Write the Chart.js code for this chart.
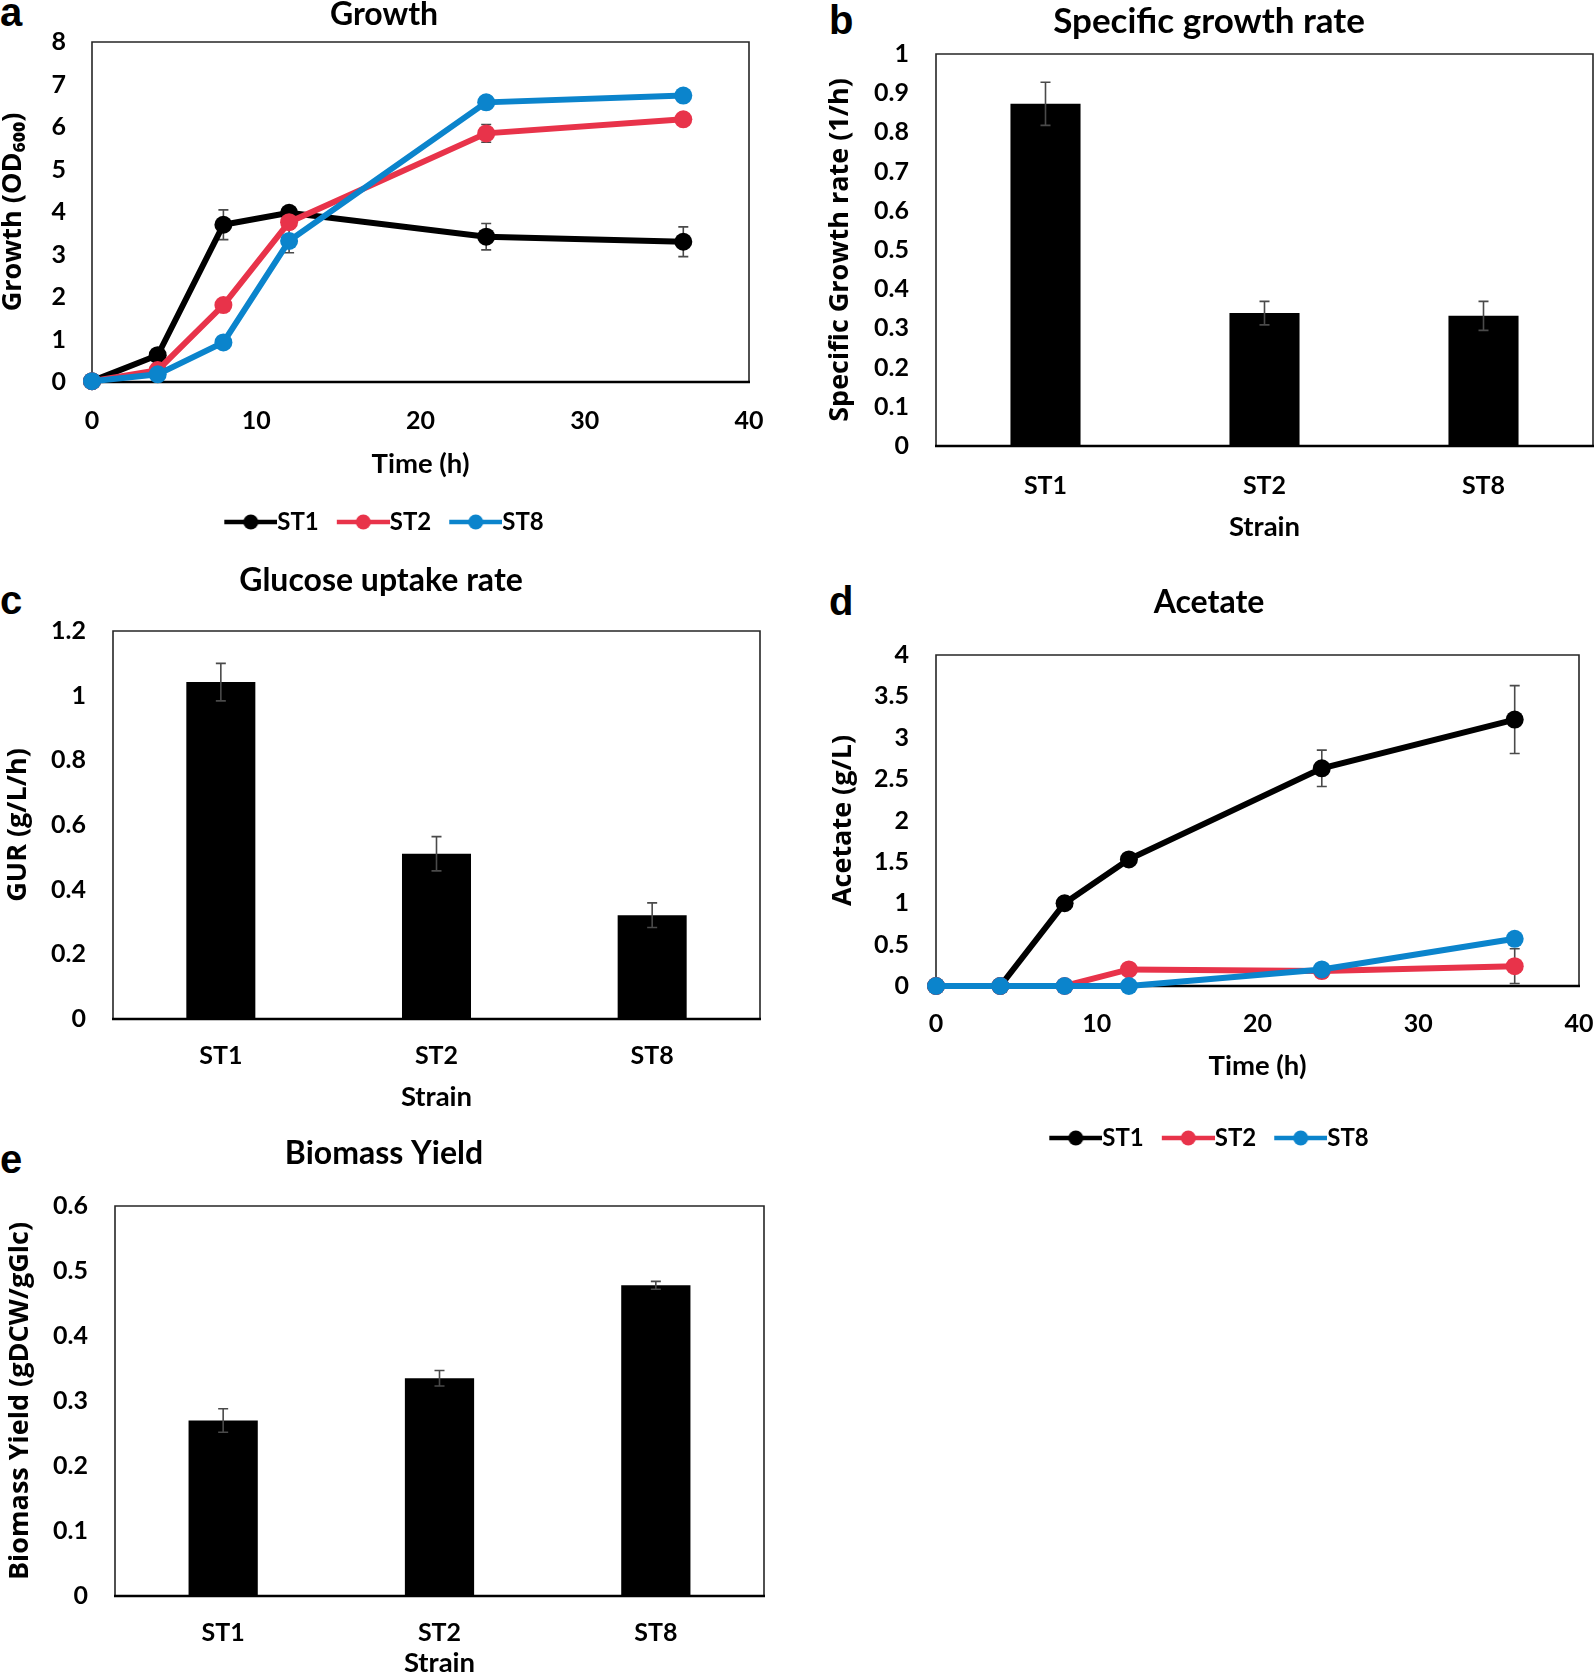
<!DOCTYPE html>
<html><head><meta charset="utf-8">
<script src="https://cdn.jsdelivr.net/npm/chart.js@4.4.1/dist/chart.umd.min.js"></script>
<style>
html,body{margin:0;padding:0;background:#fff;overflow:hidden;width:1595px;height:1675px;position:relative;}
.panel{position:absolute;}
.letter{position:absolute;font-family:'Liberation Sans',Arial,sans-serif;font-weight:bold;font-size:40px;line-height:40px;color:#000;}
canvas{display:block;}
</style></head><body>
<div class="letter" style="left:0px;top:-8px">a</div>
<div class="letter" style="left:829px;top:0px">b</div>
<div class="letter" style="left:0px;top:580px">c</div>
<div class="letter" style="left:829px;top:581px">d</div>
<div class="letter" style="left:0px;top:1139px">e</div>

<div class="panel" style="left:0px;top:0px"><canvas id="ca" width="768" height="544"></canvas></div>
<div class="panel" style="left:823px;top:0px"><canvas id="cb" width="772" height="552"></canvas></div>
<div class="panel" style="left:0px;top:565px"><canvas id="cc" width="762" height="555"></canvas></div>
<div class="panel" style="left:823px;top:585px"><canvas id="cd" width="772" height="575"></canvas></div>
<div class="panel" style="left:0px;top:1136px"><canvas id="ce" width="768" height="544"></canvas></div>

<script>
// ---------- DATA ----------
const strains = ['ST1', 'ST2', 'ST8'];
const timeH = [0, 4, 8, 12, 24, 36];

const growthST1 = [0.02, 0.63, 3.70, 3.98, 3.42, 3.30];
const growthST2 = [0.02, 0.28, 1.81, 3.76, 5.85, 6.18];
const growthST8 = [0.02, 0.18, 0.93, 3.32, 6.58, 6.74];
const growthErrST1 = [0, 0.05, 0.35, 0.10, 0.31, 0.35];
const growthErrST2 = [0, 0.05, 0.10, 0.10, 0.21, 0.05];
const growthErrST8 = [0, 0.03, 0.05, 0.28, 0.15, 0.05];

const sgrValues = [0.873, 0.339, 0.332];
const sgrErrors = [0.055, 0.030, 0.037];

const gurValues = [1.042, 0.511, 0.321];
const gurErrors = [0.058, 0.053, 0.038];

const acetateST1 = [0, 0, 1.00, 1.53, 2.63, 3.22];
const acetateST2 = [0, 0, 0, 0.20, 0.18, 0.24];
const acetateST8 = [0, 0, 0, 0, 0.20, 0.57];
const acetateErrST1 = [0, 0, 0, 0, 0.22, 0.41];
const acetateErrST2 = [0, 0, 0, 0, 0.08, 0.21];
const acetateErrST8 = [0, 0, 0, 0, 0.06, 0];

const biomassValues = [0.270, 0.335, 0.478];
const biomassErrors = [0.018, 0.012, 0.006];

// ---------- STYLE ----------
const COLORS = {ST1: '#000000', ST2: '#E8334A', ST8: '#0B84CC'};
const TICK_FONT = {family: 'Lato', size: 25, weight: 'bold'};
const XTITLE_FONT = {family: 'Lato', size: 27.5, weight: 'bold'};
const YTITLE_FONT = {family: "'Open Sans'", size: 27, weight: 'bold'};
Chart.defaults.color = '#000';
Chart.defaults.font.family = 'Lato';

function legendIcon(color) {
  const c = document.createElement('canvas');
  c.width = 65; c.height = 20;
  const g = c.getContext('2d');
  g.strokeStyle = color; g.lineWidth = 4.5;
  g.beginPath(); g.moveTo(12, 10); g.lineTo(65, 10); g.stroke();
  g.fillStyle = color;
  g.beginPath(); g.arc(38.5, 10, 7.5, 0, Math.PI * 2); g.fill();
  return c;
}

function drawErrors(chart) {
  const ctx = chart.ctx;
  chart.data.datasets.forEach((ds, di) => {
    if (!ds.errors) return;
    const meta = chart.getDatasetMeta(di);
    const ys = chart.scales[meta.yAxisID];
    ctx.save();
    ctx.strokeStyle = '#4a4a4a';
    ctx.lineWidth = 1.6;
    meta.data.forEach((el, i) => {
      const e = ds.errors[i];
      if (!e) return;
      const raw = ds.data[i];
      const v = (typeof raw === 'object') ? raw.y : raw;
      const top = ys.getPixelForValue(v + e);
      const bot = ys.getPixelForValue(v - e);
      ctx.beginPath();
      ctx.moveTo(el.x, top); ctx.lineTo(el.x, bot);
      ctx.moveTo(el.x - 5, top); ctx.lineTo(el.x + 5, top);
      ctx.moveTo(el.x - 5, bot); ctx.lineTo(el.x + 5, bot);
      ctx.stroke();
    });
    ctx.restore();
  });
}
const errorBarPlugin = {
  id: 'errorBars',
  beforeDatasetsDraw(chart) { if (chart.config.type === 'line') drawErrors(chart); },
  afterDatasetsDraw(chart) { if (chart.config.type === 'bar') drawErrors(chart); }
};
const framePlugin = {
  id: 'frame',
  beforeDatasetsDraw(chart) {
    const {left, top, right, bottom} = chart.chartArea;
    const ctx = chart.ctx;
    ctx.save();
    ctx.strokeStyle = '#262626';
    ctx.lineWidth = 1.6;
    ctx.beginPath();
    ctx.moveTo(left, bottom); ctx.lineTo(left, top); ctx.lineTo(right, top); ctx.lineTo(right, bottom);
    ctx.stroke();
    ctx.strokeStyle = '#000';
    ctx.lineWidth = 2.6;
    ctx.beginPath(); ctx.moveTo(left - 1, bottom); ctx.lineTo(right + 1, bottom); ctx.stroke();
    ctx.restore();
  }
};

const fmt = (v) => String(Math.round(v * 100) / 100);
const hiddenGrid = (len) => ({display: true, color: 'rgba(0,0,0,0)', drawOnChartArea: false, drawTicks: true, tickLength: len});

function titleOpt(text, size, pt, pb) {
  return {display: true, text, color: '#000', font: {family: 'Lato', size, weight: 'bold'},
          padding: {top: pt, bottom: pb}};
}
function yAxis(o) {
  return {
    position: 'left', min: o.min, max: o.max,
    ticks: {stepSize: o.step, padding: 0, font: TICK_FONT, color: '#000', callback: fmt},
    grid: hiddenGrid(o.tickPad), border: {display: false},
    title: {display: true, text: o.title, font: YTITLE_FONT, color: '#000', padding: {top: o.titlePad, bottom: 0}},
    afterFit(s) { s.width = o.width; }
  };
}
function xAxisLinear(o) {
  return {type: 'linear', min: 0, max: 40,
    ticks: {stepSize: 10, padding: 0, font: TICK_FONT, color: '#000', callback: fmt},
    grid: hiddenGrid(o.tickPad), border: {display: false},
    title: xTitle(o.title, o.titlePad), afterFit(s) { s.height = o.height; }};
}
function xAxisCat(o) {
  return {ticks: {padding: 0, font: TICK_FONT, color: '#000'},
    grid: hiddenGrid(o.tickPad), border: {display: false},
    title: xTitle(o.title, o.titlePad), afterFit(s) { s.height = o.height; }};
}
function rightDummy(w) {
  return {position: 'right', display: true, grid: {display: false, drawTicks: false}, border: {display: false},
          ticks: {display: false}, afterFit(s) { s.width = w; }};
}
function xTitle(text, pb) {
  return {display: true, text, font: XTITLE_FONT, color: '#000', padding: {top: 0, bottom: pb}};
}
function legendOpt() {
  const icons = [legendIcon(COLORS.ST1), legendIcon(COLORS.ST2), legendIcon(COLORS.ST8)];
  return {
    display: true, position: 'bottom',
    labels: {
      usePointStyle: true, pointStyleWidth: 41, padding: 18, color: '#000',
      font: {family: 'Lato', size: 24, weight: 'bold'},
      sort: (a, b) => a.datasetIndex - b.datasetIndex,
      generateLabels(chart) {
        const items = Chart.defaults.plugins.legend.labels.generateLabels(chart);
        items.forEach((it) => { it.pointStyle = icons[it.datasetIndex]; it.lineWidth = 0; });
        return items;
      }
    }
  };
}
function lineDs(label, values, errors, order) {
  return {
    label, data: timeH.map((t, i) => ({x: t, y: values[i]})), errors,
    borderColor: COLORS[label], backgroundColor: COLORS[label],
    pointBackgroundColor: COLORS[label], pointBorderWidth: 0, pointRadius: 9,
    borderWidth: 6, tension: 0, clip: false, order
  };
}
function barDs(values, errors) {
  return {label: 'value', data: values, errors, backgroundColor: '#000', borderWidth: 0,
          barPercentage: 0.32, categoryPercentage: 1};
}
const base = {responsive: false, animation: false, events: []};

function build() {
  // a: Growth
  new Chart(document.getElementById('ca'), {
    type: 'line',
    data: {datasets: [
      lineDs('ST1', growthST1, growthErrST1, 3),
      lineDs('ST2', growthST2, growthErrST2, 2),
      lineDs('ST8', growthST8, growthErrST8, 1)
    ]},
    options: Object.assign({}, base, {
      plugins: {title: titleOpt('Growth', 32, -4.2, 7.8), legend: legendOpt(), tooltip: {enabled: false}},
      scales: {
        x: xAxisLinear({tickPad: 24, title: 'Time (h)', titlePad: 11.5, height: 110}),
        y: yAxis({min: 0, max: 8, step: 1, tickPad: 26, title: 'Growth (OD\u2086\u2080\u2080)', titlePad: -3.2, width: 92}),
        yR: rightDummy(19)
      }
    }),
    plugins: [errorBarPlugin, framePlugin]
  });

  // b: Specific growth rate
  new Chart(document.getElementById('cb'), {
    type: 'bar',
    data: {labels: strains, datasets: [barDs(sgrValues, sgrErrors)]},
    options: Object.assign({}, base, {
      plugins: {title: titleOpt('Specific growth rate', 35, 1, 11), legend: {display: false}, tooltip: {enabled: false}},
      scales: {
        x: xAxisCat({tickPad: 25, title: 'Strain', titlePad: 8.5, height: 106}),
        y: yAxis({min: 0, max: 1, step: 0.1, tickPad: 27, title: 'Specific Growth rate (1/h)', titlePad: 0.8, width: 113}),
        yR: rightDummy(2)
      }
    }),
    plugins: [errorBarPlugin, framePlugin]
  });

  // c: Glucose uptake rate
  new Chart(document.getElementById('cc'), {
    type: 'bar',
    data: {labels: strains, datasets: [barDs(gurValues, gurErrors)]},
    options: Object.assign({}, base, {
      plugins: {title: titleOpt('Glucose uptake rate', 32, -3.2, 30.8), legend: {display: false}, tooltip: {enabled: false}},
      scales: {
        x: xAxisCat({tickPad: 22, title: 'Strain', titlePad: 6.5, height: 101}),
        y: yAxis({min: 0, max: 1.2, step: 0.2, tickPad: 27, title: 'GUR (g/L/h)', titlePad: 1.8, width: 113}),
        yR: rightDummy(2)
      }
    }),
    plugins: [errorBarPlugin, framePlugin]
  });

  // d: Acetate
  new Chart(document.getElementById('cd'), {
    type: 'line',
    data: {datasets: [
      lineDs('ST1', acetateST1, acetateErrST1, 3),
      lineDs('ST2', acetateST2, acetateErrST2, 2),
      lineDs('ST8', acetateST8, acetateErrST8, 1)
    ]},
    options: Object.assign({}, base, {
      plugins: {title: titleOpt('Acetate', 32, -1.2, 32.8), legend: legendOpt(), tooltip: {enabled: false}},
      scales: {
        x: xAxisLinear({tickPad: 23, title: 'Time (h)', titlePad: 25.5, height: 122}),
        y: yAxis({min: 0, max: 4, step: 0.5, tickPad: 27, title: 'Acetate (g/L)', titlePad: 3.8, width: 113}),
        yR: rightDummy(16)
      }
    }),
    plugins: [errorBarPlugin, framePlugin]
  });

  // e: Biomass Yield
  new Chart(document.getElementById('ce'), {
    type: 'bar',
    data: {labels: strains, datasets: [barDs(biomassValues, biomassErrors)]},
    options: Object.assign({}, base, {
      plugins: {title: titleOpt('Biomass Yield', 32, -1.2, 32.8), legend: {display: false}, tooltip: {enabled: false}},
      scales: {
        x: xAxisCat({tickPad: 22, title: 'Strain', titlePad: 0.5, height: 84}),
        y: yAxis({min: 0, max: 0.6, step: 0.1, tickPad: 27, title: 'Biomass Yield (gDCW/gGlc)', titlePad: 3.8, width: 115}),
        yR: rightDummy(4)
      }
    }),
    plugins: [errorBarPlugin, framePlugin]
  });
}
build();
</script>
</body></html>
